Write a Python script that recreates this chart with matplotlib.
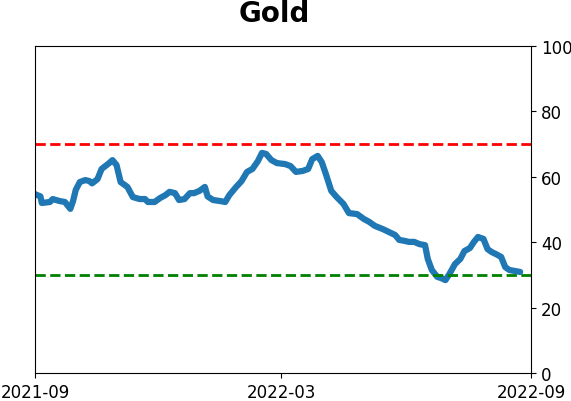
import matplotlib
matplotlib.use("Agg")
import matplotlib.pyplot as plt
import matplotlib.dates as mdates
import numpy as np

# ==================================================
# DATA
# ==================================================
dates = [
    "2021-09-01", "2021-09-05", "2021-09-06", "2021-09-12", "2021-09-14", "2021-09-19",
    "2021-09-23", "2021-09-27", "2021-09-29", "2021-10-01", "2021-10-04", "2021-10-08",
    "2021-10-11", "2021-10-13", "2021-10-17", "2021-10-20", "2021-10-25", "2021-10-28",
    "2021-10-31", "2021-11-03", "2021-11-08", "2021-11-12", "2021-11-17", "2021-11-21",
    "2021-11-23", "2021-11-28", "2021-12-02", "2021-12-06", "2021-12-09", "2021-12-13",
    "2021-12-16", "2021-12-20", "2021-12-24", "2021-12-27", "2021-12-31", "2022-01-04",
    "2022-01-06", "2022-01-10", "2022-01-15", "2022-01-19", "2022-01-22", "2022-01-27",
    "2022-01-31", "2022-02-04", "2022-02-08", "2022-02-12", "2022-02-15", "2022-02-18",
    "2022-02-22", "2022-02-26", "2022-03-04", "2022-03-08", "2022-03-12", "2022-03-17",
    "2022-03-21", "2022-03-24", "2022-03-28", "2022-03-31", "2022-04-03", "2022-04-07",
    "2022-04-11", "2022-04-16", "2022-04-20", "2022-04-26", "2022-05-01", "2022-05-05",
    "2022-05-09", "2022-05-15", "2022-05-21", "2022-05-24", "2022-05-27", "2022-05-31",
    "2022-06-03", "2022-06-07", "2022-06-11", "2022-06-15", "2022-06-17", "2022-06-20",
    "2022-06-24", "2022-06-27", "2022-06-30", "2022-07-03", "2022-07-07", "2022-07-11",
    "2022-07-14", "2022-07-18", "2022-07-21", "2022-07-24", "2022-07-28", "2022-07-31",
    "2022-08-03", "2022-08-06", "2022-08-10", "2022-08-13", "2022-08-16", "2022-08-20",
    "2022-08-24",
]
values = [
    54.7, 54.0, 52.0, 52.3, 53.2, 52.6,
    52.3, 50.2, 52.6, 56.0, 58.4, 59.0,
    58.7, 58.0, 59.3, 62.4, 64.0, 65.1,
    63.6, 58.4, 56.9, 53.8, 53.2, 53.2,
    52.3, 52.3, 53.5, 54.4, 55.4, 55.0,
    52.9, 53.2, 55.0, 55.0, 55.7, 56.9,
    54.0, 52.9, 52.6, 52.3, 54.4, 56.9,
    58.7, 61.5, 62.4, 64.8, 67.3, 67.0,
    65.1, 64.2, 63.9, 63.3, 61.5, 61.8,
    62.4, 65.4, 66.4, 64.5, 60.9, 55.7,
    53.8, 51.7, 48.9, 48.6, 47.1, 46.2,
    45.0, 44.0, 42.8, 42.2, 40.7, 40.4,
    40.1, 40.1, 39.4, 39.1, 34.9, 31.5,
    29.4, 29.0, 28.4, 30.3, 33.3, 34.9,
    37.3, 38.2, 40.1, 41.6, 41.0, 37.9,
    37.0, 36.4, 35.5, 32.4, 31.5, 31.2,
    30.9,
]
upper_level = 70
lower_level = 30
x_ticks = ["2021-09-01", "2022-03-01", "2022-09-01"]
y_ticks = [0, 20, 40, 60, 80, 100]

# ==================================================
# PLOT
# ==================================================
fig = plt.figure(figsize=(5.71, 4.02), dpi=100)
ax = fig.add_axes([0.0613, 0.0697, 0.8687, 0.8133])

x = np.array(dates, dtype="datetime64[D]")
ax.plot(x, values, color="#1f77b4", linewidth=4.5, solid_capstyle="round")
ax.axhline(upper_level, color="red", linestyle="--", linewidth=2)
ax.axhline(lower_level, color="green", linestyle="--", linewidth=2)

ax.set_xlim(np.datetime64(x_ticks[0]), np.datetime64(x_ticks[-1]))
ax.set_ylim(0, 100)
ax.set_xticks(np.array(x_ticks, dtype="datetime64[D]"))
ax.xaxis.set_major_formatter(mdates.DateFormatter("%Y-%m"))
ax.set_yticks(y_ticks)
ax.yaxis.tick_right()
ax.tick_params(labelsize=12)

# title sits a bit left of the axes centre in the reference
ax.set_title("Gold", fontsize=20, fontweight="bold", pad=18, x=0.482)

fig.savefig("out.png", dpi=100)
